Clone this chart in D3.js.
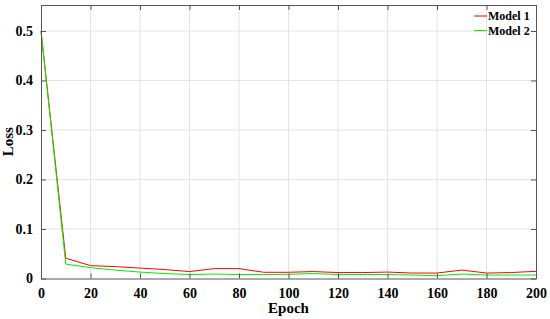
<!DOCTYPE html>
<html>
<head>
<meta charset="utf-8">
<script src="https://cdn.jsdelivr.net/npm/d3@7"></script>
<style>
body { margin: 0; background: #fff; }
text { font-family: "Liberation Serif", "Times New Roman", serif; font-weight: bold; }
</style>
</head>
<body>
<div id="chart"></div>
<script>
var epochs = [0, 10, 20, 30, 40, 50, 60, 70, 80, 90, 100, 110, 120, 130, 140, 150, 160, 170, 180, 190, 200];
var model1 = [0.5, 0.041, 0.026, 0.024, 0.021, 0.018, 0.014, 0.02, 0.02, 0.0125, 0.0125, 0.014, 0.012, 0.012, 0.013, 0.011, 0.011, 0.017, 0.011, 0.012, 0.0145];
var model2 = [0.5, 0.029, 0.022, 0.017, 0.013, 0.01, 0.008, 0.009, 0.008, 0.008, 0.0085, 0.01, 0.008, 0.008, 0.008, 0.007, 0.0057, 0.009, 0.007, 0.007, 0.007];
var xTicks = [0, 20, 40, 60, 80, 100, 120, 140, 160, 180, 200];
var yTicks = [0, 0.1, 0.2, 0.3, 0.4, 0.5];
var seriesNames = ["Model 1", "Model 2"];
var colors = ["#ff0000", "#00ee00"];

var wd = 550, ht = 319;
var mLeft = 41, mRight = 536, mTop = 5, mBottom = 278.5;

var svg = d3.select('#chart')
	.append("svg")
	.attr("width", wd)
	.attr("height", ht);

var x = d3.scaleLinear().domain([0, 200]).range([mLeft, mRight]);
var y = d3.scaleLinear().domain([0, 0.5525]).range([mBottom, mTop]);

// grid
svg.append('g').selectAll('line').data(xTicks.slice(1, -1))
	.enter().append('line')
	.attr('x1', d => x(d)).attr('x2', d => x(d))
	.attr('y1', mTop).attr('y2', mBottom)
	.attr('stroke', '#e3e3e3').attr('stroke-width', 1);
svg.append('g').selectAll('line').data(yTicks.slice(1))
	.enter().append('line')
	.attr('x1', mLeft).attr('x2', mRight)
	.attr('y1', d => y(d)).attr('y2', d => y(d))
	.attr('stroke', '#e3e3e3').attr('stroke-width', 1);

// lines
var line = d3.line()
	.x((d, i) => x(epochs[i]))
	.y(d => y(d));

[model1, model2].forEach(function (s, k) {
	svg.append('path')
		.datum(s)
		.attr('fill', 'none')
		.attr('stroke', colors[k])
		.attr('stroke-width', 1)
		.attr('d', line);
});

// axes
var xAxis = svg.append('g').attr('transform', 'translate(0,' + mBottom + ')')
	.call(d3.axisBottom(x).tickValues(xTicks).tickSizeInner(-5).tickSizeOuter(0).tickPadding(10));
var xTop = svg.append('g').attr('transform', 'translate(0,' + mTop + ')')
	.call(d3.axisTop(x).tickValues(xTicks).tickSizeInner(-5).tickSizeOuter(0).tickFormat(''));
var yAxis = svg.append('g').attr('transform', 'translate(' + mLeft + ',0)')
	.call(d3.axisLeft(y).tickValues(yTicks).tickSizeInner(-5).tickSizeOuter(0).tickPadding(8)
		.tickFormat(d => d === 0 ? '0' : d3.format('.1f')(d)));
var yRight = svg.append('g').attr('transform', 'translate(' + mRight + ',0)')
	.call(d3.axisRight(y).tickValues(yTicks).tickSizeInner(-5).tickSizeOuter(0).tickFormat(''));

[xAxis, xTop, yAxis, yRight].forEach(function (a) {
	a.selectAll('path').attr('stroke', '#555');
	a.selectAll('line').attr('stroke', '#555');
	a.selectAll('text').attr('fill', '#000').style('font-size', '14px')
		.style('font-family', '"Liberation Serif", serif').style('font-weight', 'bold');
});

svg.append('text')
	.attr('x', x(100)).attr('y', 313)
	.attr('text-anchor', 'middle')
	.style('font-size', '15px')
	.text('Epoch');
svg.append('text')
	.attr('transform', 'translate(13,' + ((mTop + mBottom) / 2) + ') rotate(-90)')
	.attr('text-anchor', 'middle')
	.style('font-size', '15px')
	.text('Loss');

// legend
var legend = svg.append('g').selectAll('g').data(seriesNames)
	.enter().append('g')
	.attr('transform', (d, i) => 'translate(474,' + (16 + i * 14.5) + ')');
legend.append('line')
	.attr('x1', 0).attr('x2', 13).attr('y1', 0).attr('y2', 0)
	.attr('stroke', (d, i) => colors[i]).attr('stroke-width', 1);
legend.append('text')
	.attr('x', 14).attr('y', 4)
	.style('font-size', '12px')
	.text(d => d);
</script>
</body>
</html>
